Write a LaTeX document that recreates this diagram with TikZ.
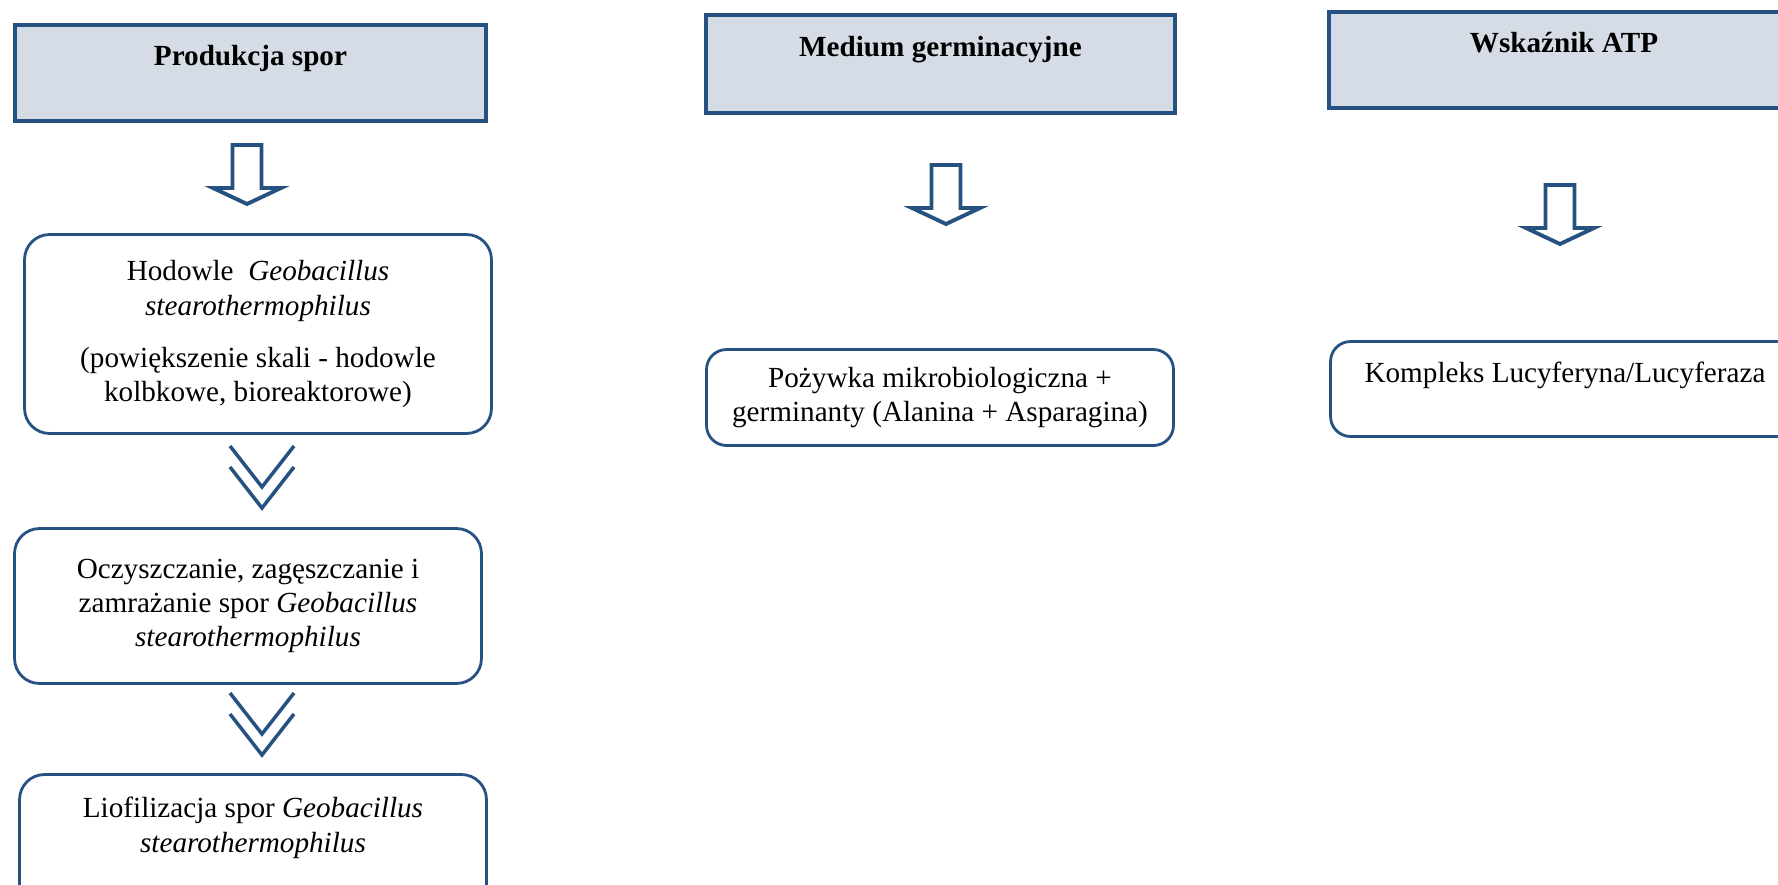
\documentclass[tikz,border=0pt]{standalone}
\usepackage{fontspec}
\setmainfont{Liberation Serif}
\usepackage{tikz}
\definecolor{frame}{RGB}{37,82,128}
\definecolor{panel}{RGB}{214,220,229}

\begin{document}
\begin{tikzpicture}[x=0.02cm, y=-0.02cm,
    every node/.style={font=\fontsize{16.6}{19.6}\selectfont, align=center, inner sep=0pt},
    head/.style={draw=frame, fill=panel, line width=2.2pt, minimum height=1.92cm,
        font=\fontsize{16.6}{19.6}\selectfont\bfseries},
    stage/.style={draw=frame, line width=1.6pt, rounded corners=0.5cm, minimum width=9.34cm},
    hollow down/.pic={
        \draw[frame, line width=2.2pt, fill=white] (-14.5,0) -- (14.5,0) -- (14.5,43)
            -- (34,43) -- (0,59) -- (-34,43) -- (-14.5,43) -- cycle;},
    chevrons/.pic={
        \draw[frame, line width=2pt] (-32,0) -- (0,41) -- (32,0)
            (-32,21) -- (0,62) -- (32,21);}]
    \useasboundingbox (0,0) rectangle (1778,885);
    \clip (0,0) rectangle (1778,885);

    % column headers
    \node[head, minimum width=9.42cm] (prod) at (250.5,73) {Produkcja spor\\\mbox{}};
    \node[head, minimum width=9.38cm, minimum height=1.96cm] (med) at (940.5,64) {Medium germinacyjne\\\mbox{}};
    \node[head, minimum width=9.4cm] (wsk) at (1564,60) {Wskaźnik ATP\\\mbox{}};

    % spore production
    \node[stage, minimum height=3.98cm] (hod) at (258,334)
        {Hodowle\ \ \textit{Geobacillus}\\\textit{stearothermophilus}\\[10pt]
         (powiększenie skali - hodowle\\kolbkowe, bioreaktorowe)};
    \node[stage, minimum height=3.1cm] (ocz) at (248,606)
        {Oczyszczanie, zagęszczanie i\\zamrażanie spor \textit{Geobacillus}\\\textit{stearothermophilus}};
    \node[stage, minimum height=2.7cm] (lio) at (253,842)
        {Liofilizacja spor \textit{Geobacillus}\\\textit{stearothermophilus}\\\mbox{}};

    % germination medium and ATP indicator
    \node[stage, rounded corners=0.4cm, minimum height=1.92cm] (poz) at (940,397.5)
        {Pożywka mikrobiologiczna +\\germinanty (Alanina + Asparagina)};
    \node[stage, rounded corners=0.4cm, minimum width=9.38cm, minimum height=1.9cm] (kom) at (1565,389)
        {Kompleks Lucyferyna/Lucyferaza\\\mbox{}};

    \pic at (247,145) {hollow down};
    \pic at (946,165) {hollow down};
    \pic at (1560,185) {hollow down};
    \pic at (262,446) {chevrons};
    \pic at (262,693) {chevrons};
\end{tikzpicture}
\end{document}
